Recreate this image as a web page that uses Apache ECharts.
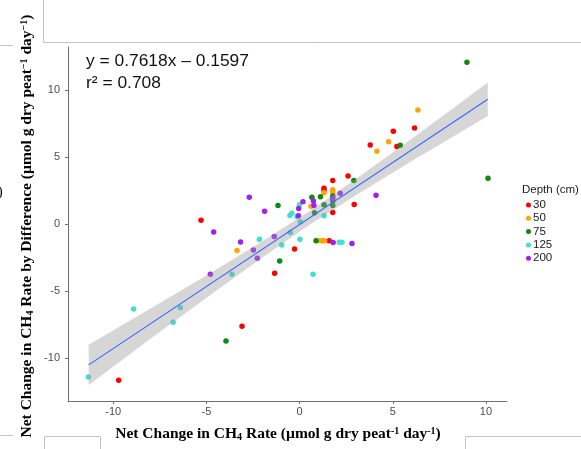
<!DOCTYPE html>
<html><head><meta charset="utf-8">
<script src="https://cdn.jsdelivr.net/npm/echarts@6/dist/echarts.min.js"></script>
<style>html,body{margin:0;padding:0;background:#fff}#c{width:581px;height:449px}</style>
</head><body><div id="c"></div>
<script>
// ---- data ----
const depths = ['30', '50', '75', '125', '200'];
const colors = ['#FF0000', '#FFA500', '#0E8A0E', '#40E0D0', '#A020F0'];

const d30 = [[6.17,7.17],[5.03,6.92],[3.79,5.90],[5.22,5.78],[2.60,3.59],[1.78,3.25],[1.31,2.68],[1.31,2.50],
  [2.93,1.47],[1.78,0.86],[-5.29,0.29],[1.59,-1.23],[-0.27,-1.86],[-1.34,-3.66],[-3.09,-7.61],[-9.71,-11.63]];
const d50 = [[6.35,8.51],[4.78,6.13],[4.15,5.43],[1.78,2.56],[1.78,2.39],[1.31,2.33],[0.61,1.33],
  [1.02,-1.23],[1.20,-1.23],[1.34,-1.23],[-3.36,-1.97]];
const d75 = [[8.98,12.06],[5.40,5.88],[10.11,3.42],[2.91,3.25],[1.78,2.10],[0.66,2.00],[1.12,2.04],[1.78,1.75],
  [1.31,1.44],[1.78,1.38],[-1.16,1.38],[0.80,0.85],[0.88,-1.23],[-1.07,-2.74],[-3.95,-8.70]];
const d125 = [[-0.01,1.45],[-0.42,0.81],[-0.52,0.65],[-0.14,0.56],[1.31,0.63],[0.04,0.18],[0.02,-1.12],
  [-0.96,-1.56],[-2.16,-1.13],[-0.50,-0.63],[2.13,-1.35],[2.27,-1.35],[0.72,-3.74],[-3.63,-3.74],
  [-6.40,-6.24],[-8.91,-6.32],[-6.79,-7.31],[-11.34,-11.39]];
const d200 = [[2.18,2.30],[1.78,1.92],[4.10,2.15],[-2.70,2.00],[0.18,1.67],[0.74,1.73],[0.77,1.38],[-0.05,1.16],
  [-1.88,0.96],[-0.07,0.63],[-4.61,-0.58],[-1.36,-0.93],[-3.17,-1.33],[1.80,-1.36],[2.81,-1.44],
  [-2.48,-1.92],[-2.27,-2.54],[-4.79,-3.74]];
const seriesData = [d30, d50, d75, d125, d200];

// fitted line and confidence band as seen in the picture
const fitLine = [[-11.32,-10.49],[10.1,9.31]];
const bandX     = [-11.32, -8, -5, -2, 0.5, 3, 6, 8, 10.1];
const bandLower = [-11.98, -8.55, -5.49, -2.48, -0.09, 2.14, 4.68, 6.33, 8.06];
const bandUpper = [-8.98, -6.29, -3.82, -1.28, 0.95, 3.34, 6.35, 8.39, 10.56];

const xTicks = [-10, -5, 0, 5, 10];
const yTicks = [-10, -5, 0, 5, 10];
const eqText = 'y = 0.7618x \u2013 0.1597';
const r2Text = 'r\u00b2 = 0.708';

// ---- chart ----
const chart = echarts.init(document.getElementById('c'), null, {renderer: 'canvas'});
const serif = "'Liberation Serif','Times New Roman',serif";
const sans = "'Liberation Sans',Arial,sans-serif";
const frame = '#c4c4c4';

const richT = {
  b: {fontFamily: serif, fontWeight: 'bold', fontSize: 15.5, color: '#000'},
  s: {fontFamily: serif, fontWeight: 'bold', fontSize: 10, verticalAlign: 'bottom', color: '#000'},
  p: {fontFamily: serif, fontWeight: 'bold', fontSize: 10, verticalAlign: 'top', color: '#000'}
};

const series = depths.map((d, i) => ({
  name: d, type: 'scatter', data: seriesData[i], symbolSize: 5.5,
  itemStyle: {color: colors[i], opacity: 1}, z: 2
}));
series.push({
  type: 'custom', z: 3, silent: true,
  data: bandX.map((x, i) => [x, bandLower[i], bandUpper[i]]),
  encode: {x: 0, y: [1, 2]},
  renderItem: function (params, api) {
    if (params.dataIndex !== 0) return null;
    const pts = [];
    for (let i = 0; i < bandX.length; i++) pts.push(api.coord([bandX[i], bandUpper[i]]));
    for (let i = bandX.length - 1; i >= 0; i--) pts.push(api.coord([bandX[i], bandLower[i]]));
    return {type: 'polygon', shape: {points: pts}, style: {fill: '#999999', opacity: 0.4}};
  }
});
series.push({
  type: 'line', data: fitLine, symbol: 'none', z: 4, silent: true,
  lineStyle: {color: '#3366FF', width: 1.1}
});

chart.setOption({
  animation: false,
  backgroundColor: '#fff',
  grid: {left: 68, right: 74, top: 47, bottom: 48, containLabel: false},
  xAxis: {
    type: 'value', min: -12.43, max: 11.13,
    axisLine: {show: true, onZero: false, lineStyle: {color: '#707070', width: 1}},
    axisTick: {show: true, length: 3, customValues: xTicks, lineStyle: {color: '#707070'}},
    axisLabel: {customValues: xTicks, color: '#4d4d4d', fontSize: 11, fontFamily: sans, margin: 5},
    splitLine: {show: false}
  },
  yAxis: {
    type: 'value', min: -13.18, max: 13.2,
    axisLine: {show: true, onZero: false, lineStyle: {color: '#707070', width: 1}},
    axisTick: {show: true, length: 3, customValues: yTicks, lineStyle: {color: '#707070'}},
    axisLabel: {customValues: yTicks, color: '#4d4d4d', fontSize: 11, fontFamily: sans, margin: 8},
    splitLine: {show: false}
  },
  legend: {
    orient: 'vertical', left: 521, top: 194, itemWidth: 5, itemHeight: 5, itemGap: 1.3,
    icon: 'circle', data: depths,
    textStyle: {fontSize: 11.5, fontFamily: sans, color: '#1a1a1a', padding: [0, 0, 0, -3]}
  },
  graphic: [
    {type: 'line', shape: {x1: 43.5, y1: 0, x2: 43.5, y2: 42.5}, style: {stroke: frame, lineWidth: 1}, silent: true},
    {type: 'line', shape: {x1: 43.5, y1: 42.5, x2: 581, y2: 42.5}, style: {stroke: frame, lineWidth: 1}, silent: true},
    {type: 'line', shape: {x1: 0, y1: 45.5, x2: 13, y2: 45.5}, style: {stroke: frame, lineWidth: 1}, silent: true},
    {type: 'line', shape: {x1: 0, y1: 435.5, x2: 13, y2: 435.5}, style: {stroke: frame, lineWidth: 1}, silent: true},
    {type: 'polyline', shape: {points: [[44.5, 449], [44.5, 436.5], [100.5, 436.5], [100.5, 449]]}, style: {stroke: frame, fill: null, lineWidth: 1}, silent: true},
    {type: 'polyline', shape: {points: [[465.5, 449], [465.5, 436.5], [581, 436.5]]}, style: {stroke: frame, fill: null, lineWidth: 1}, silent: true},
    {type: 'text', x: -2, y: 192, silent: true,
     style: {text: ')', font: '14px ' + serif, fill: '#000', verticalAlign: 'middle'}},
    {type: 'text', x: 86, y: 61, silent: true,
     style: {text: eqText, font: '17.4px ' + sans, fill: '#111', verticalAlign: 'middle'}},
    {type: 'text', x: 86, y: 83, silent: true,
     style: {text: r2Text, font: '17.4px ' + sans, fill: '#111', verticalAlign: 'middle'}},
    {type: 'text', x: 522, y: 190, silent: true,
     style: {text: 'Depth (cm)', font: '11.5px ' + sans, fill: '#1a1a1a', verticalAlign: 'middle'}},
    {type: 'text', x: 278, y: 434, silent: true,
     style: {text: '{b|Net Change in CH}{s|4}{b| Rate (\u00b5mol g dry peat}{p|-1}{b| day}{p|-1}{b|)}',
       rich: richT, align: 'center', verticalAlign: 'middle'}},
    {type: 'text', x: 27, y: 226, rotation: Math.PI / 2, silent: true,
     style: {text: '{b|Net Change in CH}{s|4}{b| Rate by Difference (\u00b5mol g dry peat}{p|\u22121}{b| day}{p|\u22121}{b|)}',
       rich: richT, align: 'center', verticalAlign: 'middle'}}
  ],
  series: series
});
</script></body></html>
